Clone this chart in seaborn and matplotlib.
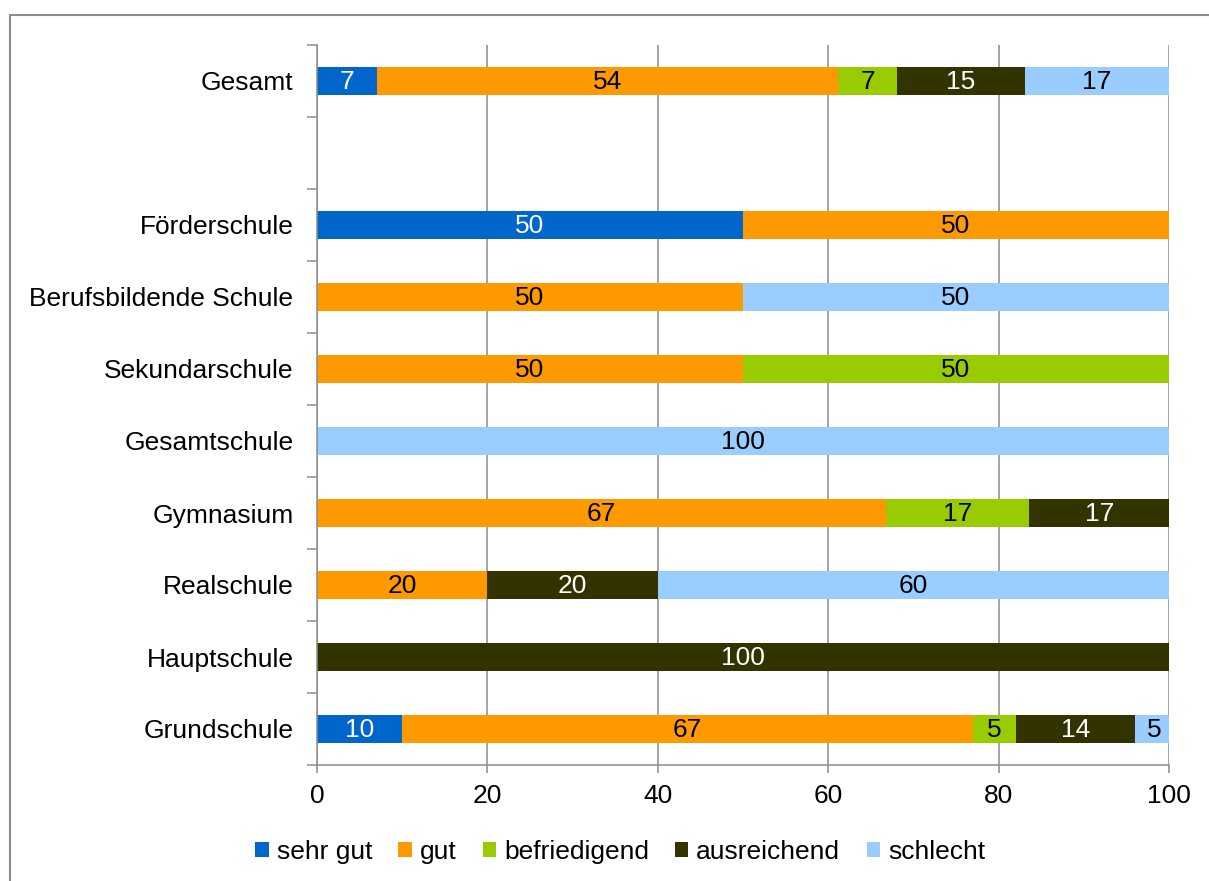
import numpy as np
import pandas as pd
import matplotlib.pyplot as plt
import seaborn as sns
from matplotlib.patches import Patch, Rectangle

# Kategorien von oben nach unten (leere Zeile zwischen Gesamt und Förderschule)
schools = ['Gesamt', ' ', 'Förderschule', 'Berufsbildende Schule', 'Sekundarschule',
           'Gesamtschule', 'Gymnasium', 'Realschule', 'Hauptschule', 'Grundschule']

sehr_gut     = [7.0,  0, 50, 0,  0,  0,   0,    0,  0,   10]
gut          = [54.2, 0, 50, 50, 50, 0,   66.8, 20, 0,   67.0]
befriedigend = [6.9,  0, 0,  0,  50, 0,   16.8, 0,  0,   5]
ausreichend  = [15.0, 0, 0,  0,  0,  0,   16.6, 20, 100, 14]
schlecht     = [16.9, 0, 0,  50, 0,  100, 0,    60, 0,   4.5]

series = ['sehr gut', 'gut', 'befriedigend', 'ausreichend', 'schlecht']
values = [sehr_gut, gut, befriedigend, ausreichend, schlecht]
colors = ['#0066CC', '#FF9900', '#99CC00', '#333300', '#99CCFF']
text_colors = ['white', 'black', 'black', 'white', 'black']

sns.set_style('white')
plt.rcParams['font.family'] = ['Liberation Sans', 'DejaVu Sans']
plt.rcParams['text.color'] = 'black'
FS = 19
GRAY = '#8c8c8c'

fig = plt.figure(figsize=(12.09, 8.81), dpi=100)
ax = fig.add_axes([317 / 1209, 116 / 881, 852 / 1209, 720 / 881])

df = pd.DataFrame(dict(zip(series, values)), index=schools)
cum = df.cumsum(axis=1)

# gestapelte Balken: kumulierte Summen von hinten nach vorne übereinander zeichnen
for name, col in reversed(list(zip(series, colors))):
    sns.barplot(x=cum[name].values, y=schools, order=schools, orient='h',
                color=col, width=0.39, errorbar=None, linewidth=0,
                saturation=1, ax=ax, zorder=2)

# Werte in die Segmente schreiben
for j, name in enumerate(series):
    starts = cum[name] - df[name]
    for i, school in enumerate(schools):
        v = df.loc[school, name]
        if v > 0:
            label = f'{v:.0f}' if v != 4.5 else '5'
            ax.text(starts[school] + v / 2, i + 0.02, label, ha='center', va='center',
                    fontsize=FS, color=text_colors[j], zorder=3)

ax.set_xlim(0, 100)
ax.set_ylim(len(schools) - 0.5, -0.5)
ax.set_xticks(np.arange(0, 101, 20))
ax.xaxis.grid(True, color=GRAY, linewidth=1.1, zorder=0)
ax.set_axisbelow(True)
ax.set_xlabel('')
ax.set_ylabel('')

ax.set_yticks(np.arange(-0.5, len(schools), 1), minor=True)
ax.tick_params(axis='y', which='major', length=0, pad=17, labelsize=FS, labelcolor='black')
ax.tick_params(axis='y', which='minor', length=7, width=1.1, color=GRAY, direction='out', left=True)
ax.tick_params(axis='x', which='major', length=6, width=1.1, color=GRAY, direction='out',
               bottom=True, pad=8, labelsize=FS, labelcolor='black')

for side in ['top', 'right']:
    ax.spines[side].set_visible(False)
for side in ['left', 'bottom']:
    ax.spines[side].set_color(GRAY)
    ax.spines[side].set_linewidth(1.1)

handles = [Patch(facecolor=c, edgecolor='none', label=s) for s, c in zip(series, colors)]
fig.legend(handles=handles, loc='center', bbox_to_anchor=(0.513, 0.033), ncol=5,
           frameon=False, fontsize=FS, handlelength=0.5, handleheight=0.5,
           handletextpad=0.3, columnspacing=1.0, labelcolor='black')

# Rahmen um das Diagramm
fig.add_artist(Rectangle((10 / 1209, -0.1), 1.5, 1.1 - 15 / 881, transform=fig.transFigure,
                         fill=False, edgecolor=GRAY, linewidth=1.5))

fig.savefig('out.png', dpi=100)
